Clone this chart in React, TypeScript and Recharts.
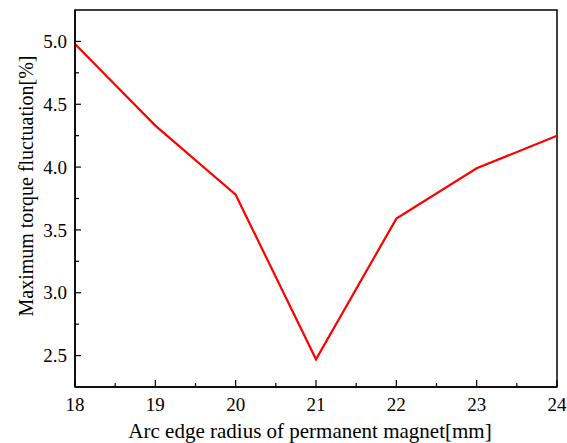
import React from "react";
import {
  LineChart,
  Line,
  XAxis,
  YAxis,
  ReferenceArea,
  Label,
} from "recharts";

// arc edge radius [mm] vs. max torque fluctuation [%]
const radius = [18, 19, 20, 21, 22, 23, 24];
const fluctuation = [4.98, 4.33, 3.78, 2.47, 3.59, 3.99, 4.25];

const xTicks = [18, 18.5, 19, 19.5, 20, 20.5, 21, 21.5, 22, 22.5, 23, 23.5, 24];
const yTicks = [2.5, 2.75, 3.0, 3.25, 3.5, 3.75, 4.0, 4.25, 4.5, 4.75, 5.0];

const data = radius.map((r, i) => ({ r, v: fluctuation[i] }));

const FONT = "Liberation Serif";
const TICK_MARGIN_X = 10;
const TICK_MARGIN_Y = 8;

// ticks drawn inward, major ones labelled, minor ones shorter
function XTick(props: any) {
  const { x, y, payload } = props;
  const v = payload.value;
  const major = Number.isInteger(v);
  const axisY = y - TICK_MARGIN_X;
  return (
    <g>
      <line x1={x} x2={x} y1={axisY} y2={axisY - (major ? 7 : 4)} stroke="#000" strokeWidth={1.2} />
      {major && (
        <text x={x} y={y} dy="0.75em" textAnchor="middle" style={{ fontFamily: FONT, fontSize: 19 }} fill="#000">
          {v}
        </text>
      )}
    </g>
  );
}

function YTick(props: any) {
  const { x, y, payload } = props;
  const v = payload.value;
  const major = Math.abs(v * 2 - Math.round(v * 2)) < 1e-6;
  const axisX = x + TICK_MARGIN_Y;
  return (
    <g>
      <line x1={axisX} x2={axisX + (major ? 6 : 4)} y1={y} y2={y} stroke="#000" strokeWidth={1.2} />
      {major && (
        <text x={x} y={y} dy="0.35em" textAnchor="end" style={{ fontFamily: FONT, fontSize: 19 }} fill="#000">
          {v.toFixed(1)}
        </text>
      )}
    </g>
  );
}

const xTitle = () => (
  <text x={310} y={438} textAnchor="middle" style={{ fontFamily: FONT, fontSize: 21 }} fill="#000">
    Arc edge radius of permanent magnet[mm]
  </text>
);

const yTitle = () => (
  <text
    transform="translate(33,186) rotate(-90)"
    textAnchor="middle"
    style={{ fontFamily: FONT, fontSize: 20 }}
    fill="#000"
  >
    Maximum torque fluctuation[%]
  </text>
);

export default function App() {
  return (
    <div style={{ position: "absolute", left: 0, top: 0, width: 567, height: 443, background: "#fff", fontFamily: FONT }}>
      <LineChart width={567} height={443} data={data} margin={{ top: 10, right: 10, bottom: 0, left: 0 }}>
        <XAxis
          dataKey="r"
          type="number"
          domain={[18, 24]}
          ticks={xTicks}
          interval={0}
          tickLine={false}
          tickSize={0}
          tickMargin={TICK_MARGIN_X}
          tick={<XTick />}
          axisLine={{ stroke: "#000", strokeWidth: 1.5 }}
          height={56}
        >
          <Label content={xTitle} />
        </XAxis>
        <YAxis
          type="number"
          domain={[2.25, 5.25]}
          ticks={yTicks}
          interval={0}
          tickLine={false}
          tickSize={0}
          tickMargin={TICK_MARGIN_Y}
          tick={<YTick />}
          axisLine={{ stroke: "#000", strokeWidth: 1.5 }}
          width={75}
        >
          <Label content={yTitle} />
        </YAxis>
        <ReferenceArea x1={18} x2={24} y1={2.25} y2={5.25} fill="none" stroke="#000" strokeWidth={1.5} />
        <Line
          dataKey="v"
          stroke="#ff0000"
          strokeWidth={2.2}
          dot={false}
          type="linear"
          isAnimationActive={false}
        />
      </LineChart>
    </div>
  );
}
